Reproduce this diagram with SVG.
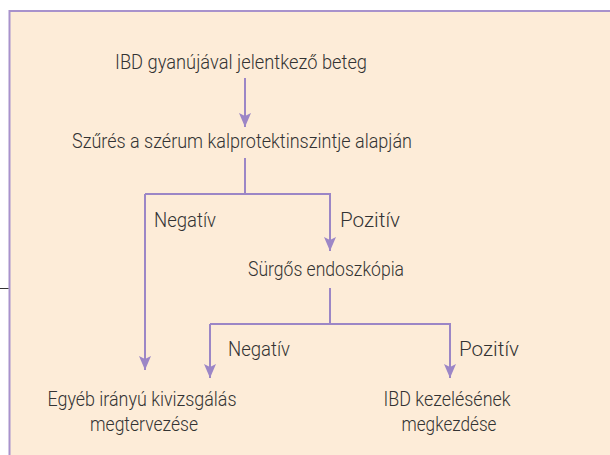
<svg xmlns="http://www.w3.org/2000/svg" width="610" height="455" viewBox="0 0 610 455">
<defs>
<style>
.t{font-family:Roboto,"Liberation Sans",Arial,sans-serif;font-weight:300;font-size:20px;fill:#333333;}
.c{fill:none;stroke:#9c86c6;stroke-width:2;}
.a{marker-end:url(#ah);}
</style>
<marker id="ah" markerUnits="userSpaceOnUse" viewBox="0 0 14 12" refX="14" refY="6" markerWidth="14" markerHeight="12" orient="auto">
<path d="M0,0 L14,6 L0,12 L3,6 z" fill="#9c86c6"/>
</marker>
</defs>
<rect x="0" y="0" width="610" height="455" fill="#ffffff"/>
<rect x="9.5" y="11" width="620" height="460" fill="#fdecd8" stroke="#a892cc" stroke-width="2"/>
<line x1="0" y1="288.5" x2="8.5" y2="288.5" stroke="#333" stroke-width="1"/>
<g id="connectors">
<path class="c a" d="M245,78 V127"/>
<path class="c" d="M245,158 V194 H145"/>
<path class="c a" d="M145,194 V370"/>
<path class="c a" d="M245,194 H330 V251"/>
<path class="c" d="M330,288 V324 H210"/>
<path class="c a" d="M210,324 V378"/>
<path class="c a" d="M330,324 H450 V378"/>
</g>
<g id="n1"><text class="t" x="241" y="69" text-anchor="middle" textLength="252" lengthAdjust="spacingAndGlyphs">IBD gyanújával jelentkező beteg</text></g>
<g id="n2"><text class="t" x="242" y="148" text-anchor="middle" textLength="340" lengthAdjust="spacingAndGlyphs">Szűrés a szérum kalprotektinszintje alapján</text></g>
<g id="l1"><text class="t" x="154" y="227" textLength="62" lengthAdjust="spacingAndGlyphs">Negatív</text></g>
<g id="l2"><text class="t" x="340" y="227" textLength="60" lengthAdjust="spacingAndGlyphs">Pozitív</text></g>
<g id="n3"><text class="t" x="326" y="275.5" text-anchor="middle" textLength="156" lengthAdjust="spacingAndGlyphs">Sürgős endoszkópia</text></g>
<g id="l3"><text class="t" x="228" y="356" textLength="62" lengthAdjust="spacingAndGlyphs">Negatív</text></g>
<g id="l4"><text class="t" x="459" y="356" textLength="60" lengthAdjust="spacingAndGlyphs">Pozitív</text></g>
<g id="n4"><text class="t" x="142" y="406" text-anchor="middle" textLength="189" lengthAdjust="spacingAndGlyphs">Egyéb irányú kivizsgálás</text><text class="t" x="144" y="431" text-anchor="middle" textLength="108" lengthAdjust="spacingAndGlyphs">megtervezése</text></g>
<g id="n5"><text class="t" x="447" y="406" text-anchor="middle" textLength="127" lengthAdjust="spacingAndGlyphs">IBD kezelésének</text><text class="t" x="449" y="431" text-anchor="middle" textLength="95" lengthAdjust="spacingAndGlyphs">megkezdése</text></g>
</svg>
